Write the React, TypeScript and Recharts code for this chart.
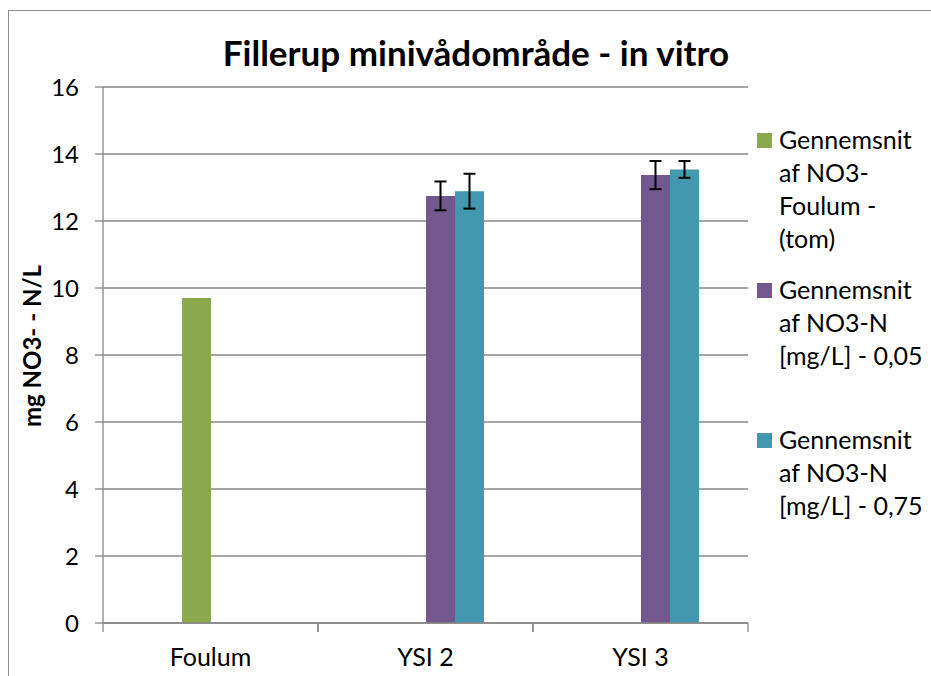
import React from 'react';
import { BarChart, Bar, XAxis, YAxis, CartesianGrid, ErrorBar, Legend } from 'recharts';

const categories = ['Foulum', 'YSI 2', 'YSI 3'];
const blankValues: (number | null)[] = [null, null, null];
const tomValues: (number | null)[] = [9.7, null, null];
const n005Values: (number | null)[] = [null, 12.75, 13.37];
const n005Errors: (number | null)[] = [null, 0.43, 0.42];
const n075Values: (number | null)[] = [null, 12.89, 13.54];
const n075Errors: (number | null)[] = [null, 0.52, 0.25];
const yTicks = [0, 2, 4, 6, 8, 10, 12, 14, 16];

const seriesNames = [
  'Gennemsnit af NO3-Foulum - (tom)',
  'Gennemsnit af NO3-N [mg/L] - 0,05',
  'Gennemsnit af NO3-N [mg/L] - 0,75',
];
const legendLines = [
  ['Gennemsnit', 'af NO3-', 'Foulum -', '(tom)'],
  ['Gennemsnit', 'af NO3-N', '[mg/L] - 0,05'],
  ['Gennemsnit', 'af NO3-N', '[mg/L] - 0,75'],
];
const seriesColors = ['#8BA84E', '#73588F', '#4198AF'];

const titleText = 'Fillerup minivådområde - in vitro';
const yAxisTitle = 'mg NO3- - N/L';

const data = categories.map((category, i) => ({
  category,
  blank: blankValues[i],
  tom: tomValues[i],
  n005: n005Values[i],
  n005Err: n005Errors[i],
  n075: n075Values[i],
  n075Err: n075Errors[i],
}));

const FONT = 'Lato, "Open Sans", sans-serif';
const GRID = '#878787';

const PLOT_LEFT = 103;
const PLOT_RIGHT = 748;
const BAND_HALF = (PLOT_RIGHT - PLOT_LEFT) / categories.length / 2;

const XTick = (props: any) => {
  const { x, y, payload } = props;
  const half = payload && typeof payload.offset === 'number' && payload.offset > 0 ? payload.offset : BAND_HALF;
  return (
    <g>
      <line x1={x - half} x2={x - half} y1={y} y2={y + 9} stroke={GRID} strokeWidth={1.3} />
      <line x1={x + half} x2={x + half} y1={y} y2={y + 9} stroke={GRID} strokeWidth={1.3} />
      <text x={x} y={y + 43} textAnchor="middle" fill="#000" fontSize={25} fontFamily={FONT}>
        {payload.value}
      </text>
    </g>
  );
};

const YLabel = (props: any) => {
  const vb = props.viewBox || {};
  const cx = (vb.x ?? 4) + 27;
  const cy = (vb.y ?? 87) + (vb.height ?? 536) / 2 - 9;
  return (
    <text
      x={cx}
      y={cy}
      transform={`rotate(-90 ${cx} ${cy})`}
      textAnchor="middle"
      dominantBaseline="central"
      fontSize={24}
      fontWeight="bold"
      fontFamily={FONT}
      fill="#000"
    >
      {yAxisTitle}
    </text>
  );
};

const LegendContent = () => (
  <div style={{ fontFamily: FONT, fontSize: 25, color: '#000' }}>
    {seriesNames.map((name, i) => (
      <div key={name} style={{ position: 'relative', height: 150 }} title={name}>
        <div
          style={{
            position: 'absolute',
            left: 9,
            top: 10,
            width: 15,
            height: 15,
            background: seriesColors[i],
          }}
        />
        <div style={{ position: 'absolute', left: 31, top: 0, lineHeight: '33px', whiteSpace: 'nowrap' }}>
          {legendLines[i].map((line) => (
            <div key={line}>{line}</div>
          ))}
        </div>
      </div>
    ))}
  </div>
);

export default function App() {
  return (
    <div
      style={{
        position: 'absolute',
        left: 0,
        top: 0,
        width: 931,
        height: 676,
        overflow: 'hidden',
        background: '#fff',
        fontFamily: FONT,
      }}
    >
      <div
        style={{
          position: 'absolute',
          left: 8,
          top: 10,
          width: 1000,
          height: 1000,
          border: '1.5px solid #8f8f8f',
        }}
      />
      <div style={{ position: 'absolute', left: 0, top: 0 }}>
        <BarChart
          width={931}
          height={676}
          data={data}
          margin={{ top: 87, right: 931 - PLOT_RIGHT, bottom: 13, left: 4 }}
          barCategoryGap={50}
          barGap={0}
        >
          <CartesianGrid vertical={false} stroke={GRID} strokeWidth={1.3} />
          <XAxis
            dataKey="category"
            height={40}
            tickLine={false}
            tickSize={0}
            tickMargin={0}
            axisLine={{ stroke: GRID, strokeWidth: 1.3 }}
            tick={<XTick />}
            interval={0}
          />
          <YAxis
            width={99}
            domain={[0, 16]}
            ticks={yTicks}
            interval={0}
            tickSize={8}
            tickMargin={16}
            axisLine={{ stroke: GRID, strokeWidth: 1.3 }}
            tickLine={{ stroke: GRID, strokeWidth: 1.3 }}
            tick={{ fill: '#000', fontSize: 24, fontFamily: FONT }}
            label={<YLabel />}
          />
          <Legend
            layout="horizontal"
            verticalAlign="middle"
            align="center"
            wrapperStyle={{ position: 'absolute', left: 748, top: 123, width: 183, height: 460 }}
            content={<LegendContent />}
          />
          <Bar dataKey="blank" name="(blank)" fill="#ffffff" isAnimationActive={false} legendType="none" />
          <Bar dataKey="tom" name={seriesNames[0]} fill={seriesColors[0]} isAnimationActive={false} />
          <Bar dataKey="n005" name={seriesNames[1]} fill={seriesColors[1]} isAnimationActive={false}>
            <ErrorBar dataKey="n005Err" width={6} stroke="#000" strokeWidth={2} direction="y" />
          </Bar>
          <Bar dataKey="n075" name={seriesNames[2]} fill={seriesColors[2]} isAnimationActive={false}>
            <ErrorBar dataKey="n075Err" width={6} stroke="#000" strokeWidth={2} direction="y" />
          </Bar>
        </BarChart>
      </div>
      <svg
        width={931}
        height={90}
        style={{ position: 'absolute', left: 0, top: 0, pointerEvents: 'none' }}
      >
        <text x={476} y={66} textAnchor="middle" fontSize={35} fontWeight="bold" fontFamily={FONT} fill="#000">
          {titleText}
        </text>
      </svg>
    </div>
  );
}
